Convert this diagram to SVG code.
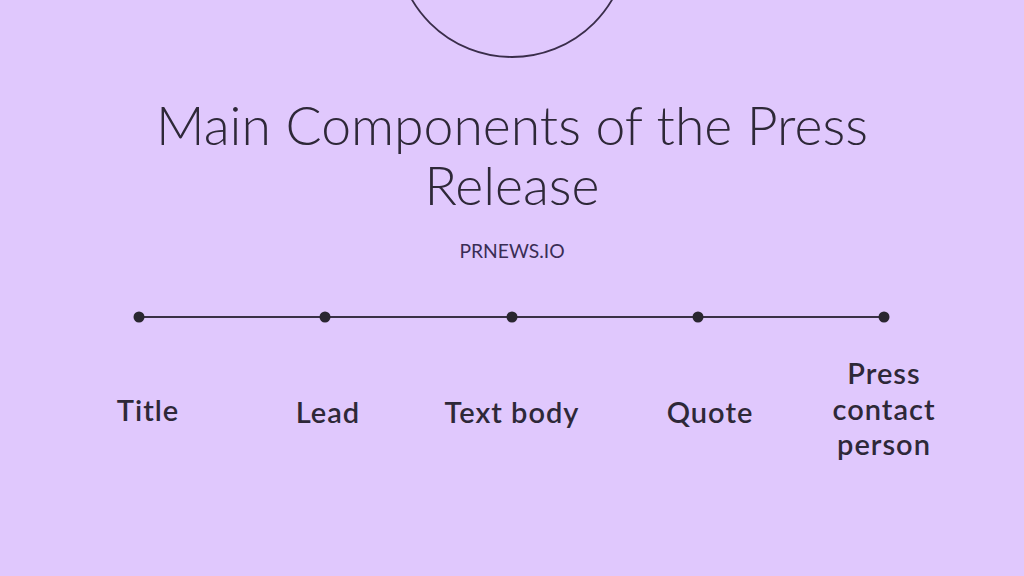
<svg xmlns="http://www.w3.org/2000/svg" width="1024" height="576" viewBox="0 0 1024 576">
<style>
.title{font-family:Lato,"Noto Sans",sans-serif;font-weight:300;font-size:53.5px;fill:#2e2838;text-anchor:middle}
.sub{font-family:Lato,"Noto Sans",sans-serif;font-weight:400;font-size:19.3px;fill:#3a2d55;text-anchor:middle}
.lbl{font-family:Lato,"Noto Sans",sans-serif;font-weight:600;font-size:29px;letter-spacing:1px;fill:#2e2838;text-anchor:middle}
.dot{fill:#2a2630}
</style>
<rect width="1024" height="576" fill="#e0c8fd"/>
<circle cx="512" cy="-59" r="116" fill="none" stroke="#3a2d4a" stroke-width="1.8"/>
<text class="title" x="512" y="145">Main Components of the Press</text>
<text class="title" x="512" y="205">Release</text>
<text class="sub" x="512" y="258">PRNEWS.IO</text>
<g id="connectors">
<line x1="139" y1="317" x2="884" y2="317" stroke="#3a3046" stroke-width="2"/>
</g>
<g id="n1"><circle class="dot" cx="139" cy="317" r="5.5"/><text class="lbl" x="148" y="421">Title</text></g>
<g id="n2"><circle class="dot" cx="325" cy="317" r="5.5"/><text class="lbl" x="328" y="423">Lead</text></g>
<g id="n3"><circle class="dot" cx="512" cy="317" r="5.5"/><text class="lbl" x="512" y="423">Text body</text></g>
<g id="n4"><circle class="dot" cx="698" cy="317" r="5.5"/><text class="lbl" x="710" y="423">Quote</text></g>
<g id="n5"><circle class="dot" cx="884" cy="317" r="5.5"/><text class="lbl" x="884" y="384">Press</text><text class="lbl" x="884" y="420">contact</text><text class="lbl" x="884" y="455">person</text></g>
</svg>
